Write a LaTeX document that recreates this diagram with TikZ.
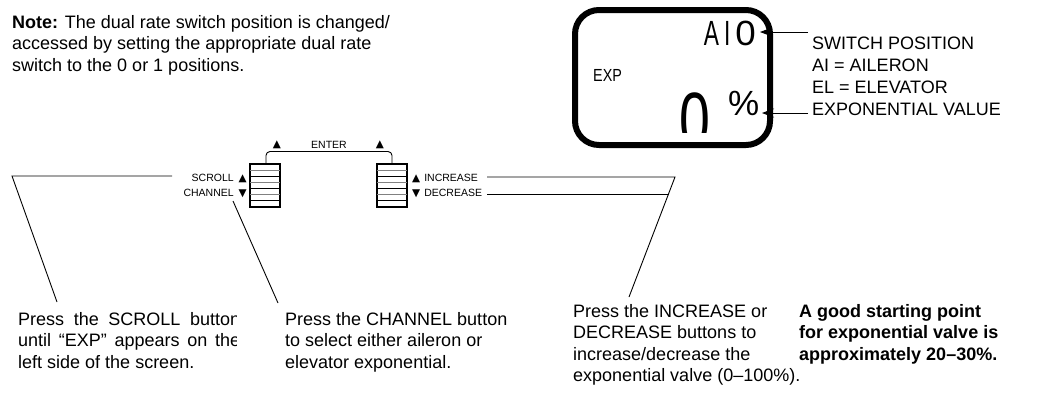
\documentclass[tikz,border=0pt]{standalone}
\usepackage{fontspec}
\setmainfont{Liberation Sans}
\newfontfamily\sym{DejaVu Sans}
\usetikzlibrary{arrows.meta}
\begin{document}
\begin{tikzpicture}[x=1pt,y=-1pt,
  txt/.style={inner sep=0pt, anchor=base west, font=\fontsize{18}{21.5}\selectfont},
  small/.style={inner sep=0pt, font=\fontsize{10.5}{12}\selectfont},
  lead/.style={line width=0.9pt},
  lcd/.style={inner sep=0pt, anchor=base},
  btn/.style={line width=2.6pt},
  tip/.style={-{Stealth[length=12pt,width=9pt,inset=4pt]}, line width=0.9pt}
  ]
\useasboundingbox (0,0) rectangle (1064,392);

% note
\node[txt] (note) at (12,28) {\parbox[t]{420pt}{\raggedright\textbf{Note:} The dual rate switch position is changed/\\accessed by setting the appropriate dual rate\\switch to the 0 or 1 positions.}};

% LCD
\draw[line width=6pt, rounded corners=24pt] (575,10) rectangle (770,145);
\node[lcd, anchor=base east] (ai) at (756,45) {\fontsize{35}{35}\selectfont\scalebox{0.65}[1]{A}\kern5pt\scalebox{0.65}[1]{I}\kern5pt\scalebox{1.05}[1]{0}};
\node[lcd, anchor=base west] (exp) at (593,81) {\fontsize{17.5}{18}\selectfont\scalebox{0.82}[1]{EXP}};
\begin{scope}
  \clip (640,80) rectangle (720,132);
  \node[lcd] (zero) at (695,146) {\fontsize{77}{77}\selectfont\scalebox{0.72}[1]{0}};
\end{scope}
\node[lcd, anchor=base west] (pct) at (728,115) {\fontsize{35}{35}\selectfont\%};

% right labels
\node[txt] (labels) at (812,49) {\parbox[t]{250pt}{\baselineskip=22pt SWITCH POSITION\\AI = AILERON\\EL = ELEVATOR\\EXPONENTIAL VALUE}};
\coordinate (swl) at (808,32);
\coordinate (swt) at (760,32);
\coordinate (evl) at (808,113);
\coordinate (evt) at (762,113);
\draw[tip] (swl) -- (swt);
\draw[tip] (evl) -- (evt);

% buttons
\foreach \bx in {250,377}{
  \draw[btn] (\bx,164) rectangle (\bx+30,207);
  \foreach \k in {1,...,6}{
    \pgfmathsetmacro{\yy}{164+\k*43/7}
    \ifodd\k
      \draw[line width=1pt, gray] (\bx,\yy) -- (\bx+30,\yy);
    \else
      \draw[line width=1pt, black] (\bx,\yy) -- (\bx+30,\yy);
    \fi
  }
}
\node[inner sep=0pt, minimum width=30pt, minimum height=43pt] (leftbtn) at (265,185.5) {};
\node[inner sep=0pt, minimum width=30pt, minimum height=43pt] (rightbtn) at (392,185.5) {};

% enter bracket
\coordinate (e1) at (266,163);
\coordinate (e2) at (392,163);
\draw[lead, rounded corners=4pt] (e1) -- (266,151.5) -- (392,151.5) -- (e2);
\node[small] (ta) at (277,145) {\sym ▲};
\node[small] (enter) at (329,145) {ENTER};
\node[small] (tb) at (380,145) {\sym ▲};

% button labels
\node[small, anchor=east] (scroll) at (247,178) {SCROLL\kern5pt{\sym ▲}};
\node[small, anchor=east] (channel) at (247,193) {CHANNEL\kern5pt{\sym ▼}};
\node[small, anchor=west] (incr) at (412,178) {{\sym ▲}\kern4pt INCREASE};
\node[small, anchor=west] (decr) at (412,193) {{\sym ▼}\kern4pt DECREASE};

% leaders
\coordinate (s1) at (172,176);
\coordinate (s2) at (12,176);
\coordinate (s3) at (57,302);
\coordinate (c1) at (233,201);
\coordinate (c2) at (278,303);
\coordinate (i1) at (487,177);
\coordinate (i2) at (675,177);
\coordinate (i3) at (629,297);
\coordinate (d1) at (487,194);
\coordinate (d2) at (668.5,194);
\draw[lead] (s1) -- (s2) -- (s3);
\draw[lead] (c1) -- (c2);
\draw[lead] (i1) -- (i2) -- (i3);
\draw[lead] (d1) -- (d2);

% bottom texts
\begin{scope}
  \clip (0,295) rectangle (236,392);
  \node[txt] (t1) at (18,325) {\parbox[t]{222pt}{\tolerance=10000 Press the SCROLL button\linebreak until “EXP” appears on the\linebreak left side of the screen.}};
\end{scope}
\node[txt] (t2) at (285,325) {\parbox[t]{250pt}{\raggedright Press the CHANNEL button\\to select either aileron or\\elevator exponential.}};
\node[txt] (t3) at (573,317) {\parbox[t]{250pt}{\raggedright Press the INCREASE or\\DECREASE buttons to\\increase/decrease the\\exponential valve (0–100\%).}};
\node[txt] (t4) at (799,317) {\parbox[t]{265pt}{\raggedright\bfseries A good starting point\\for exponential valve is\\approximately 20–30\%.}};
\end{tikzpicture}
\end{document}
